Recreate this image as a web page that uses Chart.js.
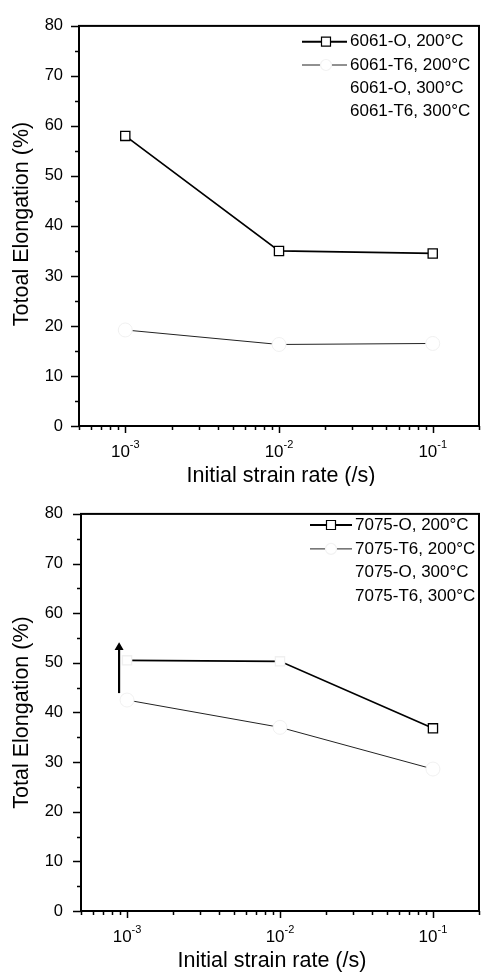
<!DOCTYPE html>
<html><head><meta charset="utf-8">
<script src="https://cdn.jsdelivr.net/npm/chart.js@4/dist/chart.umd.min.js"></script>
<style>
html,body{margin:0;padding:0;background:#fff;width:487px;height:972px;overflow:hidden}
canvas{position:absolute;left:0}
#c1{top:0}
#c2{top:486px}
</style></head><body>
<canvas id="c1" width="487" height="486"></canvas>
<canvas id="c2" width="487" height="486"></canvas>
<script>
// ---- data ----
const strainRates = [1e-3, 1e-2, 1e-1];
const elong6061O200 = [58, 35, 34.5];
const elong6061T6200 = [19.2, 16.3, 16.5];
const elong7075O200 = [50.5, 50.3, 36.8];
const elong7075T6200 = [42.5, 37.0, 28.6];
const arrowRate = [8.87e-4, 8.87e-4];
const arrowElong = [43.9, 53.1];
const labels6061 = ['6061-O, 200°C', '6061-T6, 200°C', '6061-O, 300°C', '6061-T6, 300°C'];
const labels7075 = ['7075-O, 200°C', '7075-T6, 200°C', '7075-O, 300°C', '7075-T6, 300°C'];
const yTitles = ['Totoal Elongation (%)', 'Total Elongation (%)'];
const xTitle = 'Initial strain rate (/s)';
const xRange = [5e-4, 0.2];
const yRange = [0, 80];
const yTickStep = 5;
const yLabelStep = 10;
const xMajorTicks = [1e-3, 1e-2, 1e-1];
const xTickBase = '10';
const xTickExponents = ['-3', '-2', '-1'];

const FONT = '"Liberation Sans", Arial, Helvetica, sans-serif';
const W = 487, H = 486;

function toPoints(xs, ys) { return xs.map((x, i) => ({x: x, y: ys[i]})); }

function logMinorTicks(min, max) {
  const out = [];
  for (let e = Math.floor(Math.log10(min)); e <= Math.ceil(Math.log10(max)); e++) {
    for (let m = 1; m <= 9; m++) {
      const v = m * Math.pow(10, e);
      if (v >= min * 0.9999 && v <= max * 1.0001) out.push(v);
    }
  }
  return out;
}
function isMajor(v) { return xMajorTicks.some(t => Math.abs(v - t) / t < 1e-6); }

const framePlugin = {
  id: 'frame',
  afterDatasetsDraw(chart, args, o) {
    const ctx = chart.ctx, a = chart.chartArea, xs = chart.scales.x, ys = chart.scales.y;
    ctx.save();
    ctx.strokeStyle = '#000';
    ctx.lineWidth = 2;
    ctx.strokeRect(a.left, a.top, a.right - a.left, a.bottom - a.top);
    // x ticks
    ctx.lineWidth = 1.5;
    ctx.beginPath();
    xs.ticks.forEach(t => {
      const px = Math.round(xs.getPixelForValue(t.value)) + 0.5;
      const len = isMajor(t.value) ? 7 : 4;
      ctx.moveTo(px, a.bottom); ctx.lineTo(px, a.bottom + len);
    });
    // y ticks
    ys.ticks.forEach(t => {
      const py = Math.round(ys.getPixelForValue(t.value)) + 0.5;
      const len = (t.value % yLabelStep === 0) ? 8 : 4;
      ctx.moveTo(a.left, py); ctx.lineTo(a.left - len, py);
    });
    ctx.stroke();
    // x tick labels with superscript exponent
    ctx.fillStyle = '#000';
    ctx.textBaseline = 'alphabetic';
    xMajorTicks.forEach((v, i) => {
      const px = xs.getPixelForValue(v);
      ctx.font = '17px ' + FONT;
      const wb = ctx.measureText(xTickBase).width;
      ctx.font = '11px ' + FONT;
      const we = ctx.measureText(xTickExponents[i]).width;
      const x0 = px - (wb + we) / 2;
      ctx.font = '17px ' + FONT;
      ctx.textAlign = 'left';
      ctx.fillText(xTickBase, x0, a.bottom + 31);
      ctx.font = '11px ' + FONT;
      ctx.fillText(xTickExponents[i], x0 + wb, a.bottom + 22);
    });
    // axis titles
    ctx.font = '21.5px ' + FONT;
    ctx.textAlign = 'center';
    ctx.fillText(xTitle, o.xTitleX, a.bottom + 55.5);
    ctx.save();
    ctx.translate(o.yTitleX, o.yTitleY);
    ctx.rotate(-Math.PI / 2);
    ctx.textBaseline = 'middle';
    ctx.fillText(o.yTitle, 0, 0);
    ctx.restore();
    // legend
    const L = o.legend;
    ctx.font = '17px ' + FONT;
    ctx.textAlign = 'left';
    ctx.textBaseline = 'middle';
    chart.data.datasets.forEach((ds, i) => {
      if (!ds.label) return;
      const y = L.y0 + i * L.dy;
      if (ds.legendLine) {
        ctx.strokeStyle = ds.borderColor;
        ctx.lineWidth = ds.legendLineWidth || ds.borderWidth;
        ctx.beginPath(); ctx.moveTo(L.x, y); ctx.lineTo(L.x + L.w, y); ctx.stroke();
        const cx = L.x + L.mk;
        ctx.fillStyle = '#fff';
        ctx.lineWidth = 1.2;
        if (ds.legendLine === 'rect') {
          ctx.strokeStyle = '#000';
          ctx.beginPath(); ctx.rect(cx - 4.5, y - 4.5, 9, 9); ctx.fill(); ctx.stroke();
        } else if (ds.legendLine === 'circle') {
          ctx.strokeStyle = '#f2f2f2';
          ctx.beginPath(); ctx.arc(cx, y, 5.5, 0, Math.PI * 2); ctx.fill(); ctx.stroke();
        }
      }
      ctx.fillStyle = '#000';
      ctx.fillText(ds.label, L.textX, y);
    });
    ctx.restore();
  }
};

function oSeries(label, ys, borderFn) {
  return {
    label: label, data: toPoints(strainRates, ys), borderColor: '#000', borderWidth: 1.7,
    pointStyle: 'rect', pointRadius: 6.5, pointBackgroundColor: '#fff',
    pointBorderColor: borderFn || '#000', pointBorderWidth: 1.3, legendLine: 'rect', legendLineWidth: 2
  };
}
function t6Series(label, ys) {
  return {
    label: label, data: toPoints(strainRates, ys), borderColor: '#222', borderWidth: 1,
    pointStyle: 'circle', pointRadius: 7, pointBackgroundColor: '#fff',
    pointBorderColor: '#f0f0f0', pointBorderWidth: 1, legendLine: 'circle', legendLineWidth: 1
  };
}
function hiddenSeries(label) {
  return { label: label, data: [], borderColor: 'rgba(0,0,0,0)', pointRadius: 0 };
}

function makeChart(id, datasets, area, frame) {
  return new Chart(document.getElementById(id), {
    type: 'line',
    data: { datasets: datasets },
    options: {
      responsive: false, animation: false, devicePixelRatio: 1,
      layout: { padding: { left: 0, top: area.top, right: W - area.right, bottom: 0 } },
      plugins: { legend: { display: false }, tooltip: { enabled: false }, frame: frame },
      elements: { line: { tension: 0 } },
      scales: {
        x: {
          type: 'logarithmic', min: xRange[0], max: xRange[1],
          grid: { display: false, drawTicks: false }, border: { display: false },
          ticks: { autoSkip: false, maxRotation: 0, callback: () => '' },
          afterBuildTicks: s => { s.ticks = logMinorTicks(xRange[0], xRange[1]).map(v => ({value: v})); },
          afterFit: s => { s.height = H - area.bottom; }
        },
        y: {
          type: 'linear', min: yRange[0], max: yRange[1],
          grid: { display: false, drawTicks: false }, border: { display: false },
          ticks: {
            stepSize: yTickStep, autoSkip: false, padding: area.left - 63, color: '#000',
            font: { family: FONT, size: 16.5 },
            callback: v => (v % yLabelStep === 0 ? String(v) : '')
          },
          afterFit: s => { s.width = area.left; }
        }
      }
    },
    plugins: [framePlugin]
  });
}

makeChart('c1', [
  oSeries(labels6061[0], elong6061O200),
  t6Series(labels6061[1], elong6061T6200),
  hiddenSeries(labels6061[2]),
  hiddenSeries(labels6061[3])
], { left: 79, right: 483, top: 15, bottom: 426 }, {
  yTitle: yTitles[0], yTitleX: 22, yTitleY: 224, xTitleX: 281,
  legend: { x: 302, w: 45, mk: 24, textX: 350, y0: 41.7, dy: 23.3 }
});

makeChart('c2', [
  oSeries(labels7075[0], elong7075O200, c => (c.dataIndex === strainRates.length - 1 ? '#000' : '#f0f0f0')),
  t6Series(labels7075[1], elong7075T6200),
  hiddenSeries(labels7075[2]),
  hiddenSeries(labels7075[3]),
  {
    label: '', data: toPoints(arrowRate, arrowElong), borderColor: '#000', borderWidth: 2.2,
    pointStyle: 'triangle', pointRadius: c => (c.dataIndex === 1 ? 3 : 0),
    pointBackgroundColor: '#000', pointBorderColor: '#000'
  }
], { left: 81, right: 484, top: 19, bottom: 425 }, {
  yTitle: yTitles[1], yTitleX: 22, yTitleY: 226.5, xTitleX: 272,
  legend: { x: 310, w: 42, mk: 21, textX: 355, y0: 39, dy: 23.9 }
});
</script>
</body></html>
